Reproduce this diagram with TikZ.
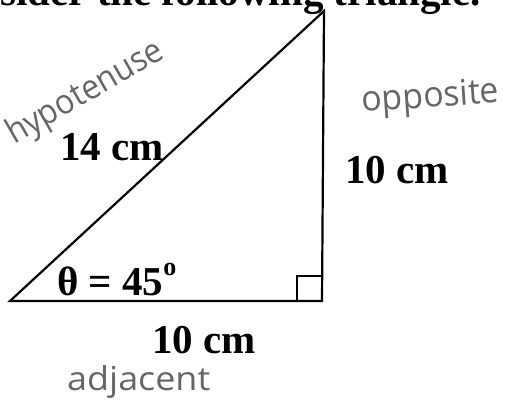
\documentclass[tikz,border=0pt]{standalone}
\usepackage{fontspec}
\setmainfont{Liberation Serif}
\newfontfamily\hand{Open Sans}
\begin{document}
\begin{tikzpicture}[x=1pt,y=-1pt,
  lbl/.style={font=\fontsize{41}{41}\selectfont\bfseries, inner sep=0pt, anchor=base west},
  handw/.style={inner sep=0pt, anchor=base west, text=black!60, font=\hand},
  edge/.style={line width=2.2pt, line join=miter}]
\useasboundingbox (0,0) rectangle (508,401);
\begin{scope}
\clip (0,0) rectangle (508,401);
\node[lbl] (title) at (0,6) {sider the following triangle.};
\coordinate (A) at (10,301);
\coordinate (B) at (322,301);
\coordinate (C) at (324,11);
\draw[edge] (A) -- (B) -- (C) -- cycle;
\coordinate (S1) at (297,301);
\coordinate (S2) at (322,276);
\draw[line width=1.8pt] (S1) rectangle (S2);
\node[lbl] (hyp) at (60,160) {14 cm};
\node[lbl] (opp) at (345,183) {10 cm};
\node[lbl] (adj) at (152,353) {10 cm};
\node[lbl] (ang) at (57,295) {θ = 45\raisebox{20pt}{\fontsize{26}{26}\selectfont o}};
\node[handw, rotate=30] (hypw) at (14,145) {\resizebox{175pt}{26pt}{hypotenuse}};
\node[handw, rotate=4] (oppw) at (362,112) {\resizebox{138pt}{26pt}{opposite}};
\node[handw] (adjw) at (67,390) {\resizebox{143pt}{25pt}{adjacent}};
\end{scope}
\end{tikzpicture}
\end{document}
